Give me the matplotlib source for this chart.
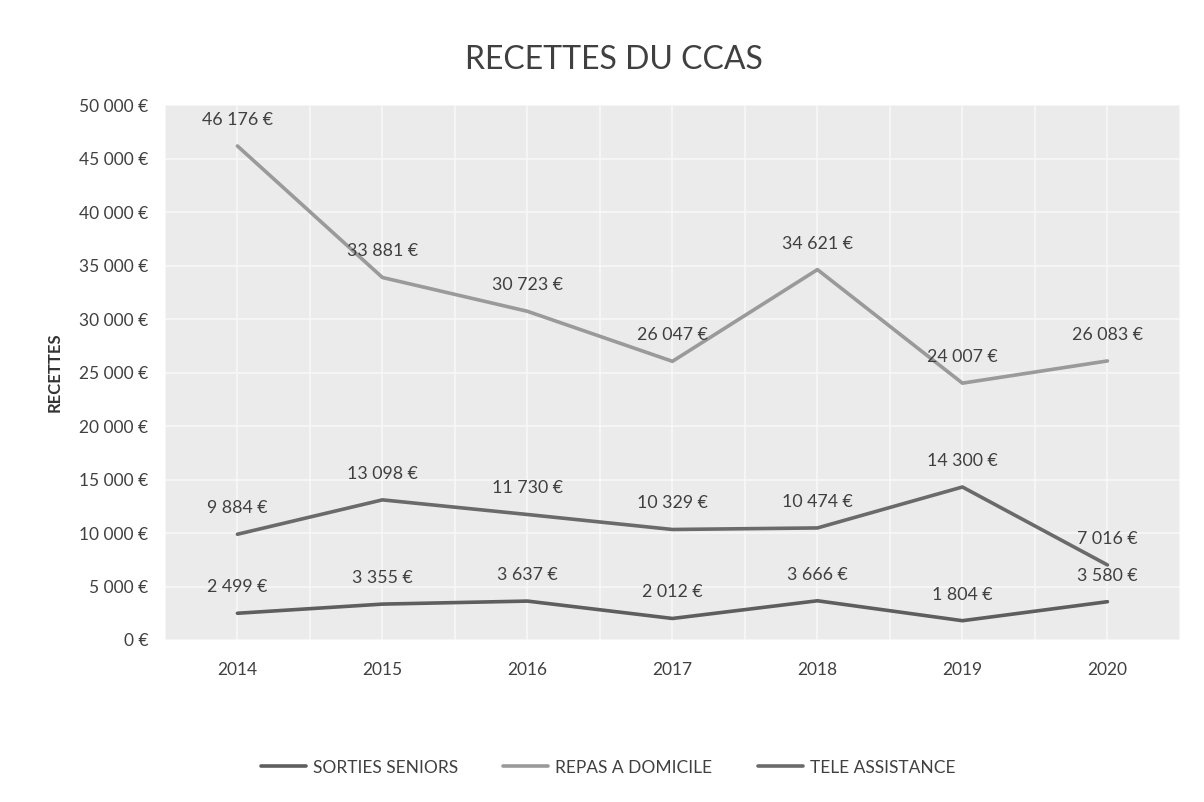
import matplotlib
matplotlib.use("Agg")
import matplotlib.pyplot as plt
from matplotlib.ticker import FuncFormatter, MultipleLocator
import numpy as np

plt.rcParams['font.family'] = ['Lato', 'DejaVu Sans']

years = ["2014", "2015", "2016", "2017", "2018", "2019", "2020"]
repas_domicile = [46176, 33881, 30723, 26047, 34621, 24007, 26083]
tele_assistance = [9884, 13098, 11730, 10329, 10474, 14300, 7016]
sorties_seniors = [2499, 3355, 3637, 2012, 3666, 1804, 3580]

def euro(v):
    return "{:,.0f} €".format(v).replace(",", " ")

fig = plt.figure(figsize=(12.04, 8.02), dpi=100)
ax = fig.add_axes([0.137, 0.202, 0.843, 0.667])
ax.set_facecolor("#ebebeb")

x = np.arange(len(years))
series = [
    ("SORTIES SENIORS", sorties_seniors, "#5e5e5e"),
    ("REPAS A DOMICILE", repas_domicile, "#9a9a9a"),
    ("TELE ASSISTANCE", tele_assistance, "#6a6a6a"),
]
for name, vals, col in series:
    ax.plot(x, vals, color=col, lw=2.6, label=name, solid_capstyle="round")
    for xi, v in zip(x, vals):
        ax.annotate(euro(v), (xi, v), xytext=(0, 13), textcoords="offset points",
                    ha="center", va="bottom", fontsize=12.8, color="#404040")

ax.set_xlim(-0.5, len(years) - 0.5)
ax.set_ylim(0, 50000)
ax.yaxis.set_major_locator(MultipleLocator(5000))
ax.yaxis.set_major_formatter(FuncFormatter(lambda v, p: euro(v)))
ax.set_xticks(x)
ax.set_xticklabels(years)
ax.xaxis.set_minor_locator(MultipleLocator(0.5))
ax.grid(True, which="major", axis="y", color="#f8f8f8", lw=1.2)
ax.grid(True, which="both", axis="x", color="#f8f8f8", lw=1.2)
ax.set_axisbelow(True)
ax.tick_params(axis="both", which="both", length=0, labelsize=12.5, labelcolor="#404040")
ax.tick_params(axis="x", pad=16)
ax.tick_params(axis="y", pad=12)
for s in ax.spines.values():
    s.set_visible(False)

ax.set_ylabel("RECETTES", fontsize=12, fontweight="bold", color="#333333", labelpad=12)
fig.text(0.51, 0.925, "RECETTES DU CCAS", ha="center", va="center", fontsize=23, color="#404040")

handles, labels = ax.get_legend_handles_labels()
leg = fig.legend(handles, labels,
                 loc="center", bbox_to_anchor=(0.505, 0.043), ncol=3, frameon=False,
                 fontsize=12.5, handlelength=2.6, handletextpad=0.4, columnspacing=2.6)
for t in leg.get_texts():
    t.set_color("#404040")

fig.savefig("out.png", dpi=100)
